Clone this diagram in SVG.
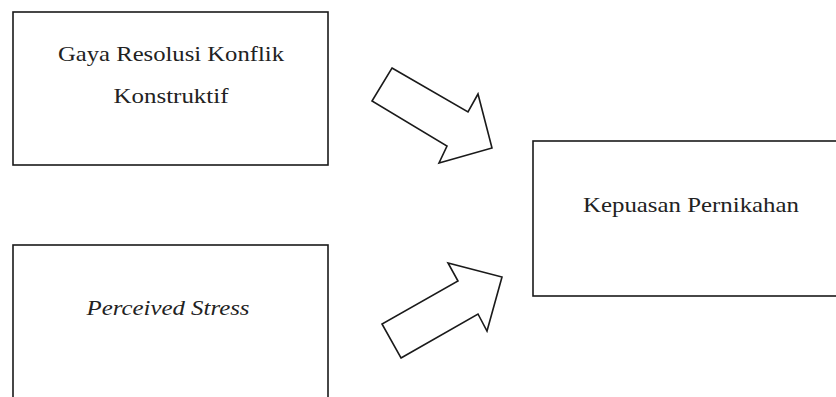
<svg xmlns="http://www.w3.org/2000/svg" width="836" height="397" viewBox="0 0 836 397">
<style>
.box{fill:#fff;stroke:#1a1a1a;stroke-width:1.6}
.arrow{fill:#fff;stroke:#1a1a1a;stroke-width:1.6;stroke-linejoin:miter}
.lbl{font-family:'Liberation Serif','Times New Roman','DejaVu Serif',Times,serif;font-size:22px;fill:#222;text-anchor:middle}
</style>
<rect width="836" height="397" fill="#fff"/>
<g id="node-gaya">
<rect class="box" x="13" y="12" width="315" height="153"/>
<text class="lbl" x="171" y="61" textLength="226" lengthAdjust="spacingAndGlyphs">Gaya Resolusi Konflik</text>
<text class="lbl" x="171" y="103" textLength="115" lengthAdjust="spacingAndGlyphs">Konstruktif</text>
</g>
<g id="node-stress">
<rect class="box" x="13" y="245" width="315" height="160"/>
<text class="lbl" x="168" y="315" font-style="italic" textLength="163" lengthAdjust="spacingAndGlyphs">Perceived Stress</text>
</g>
<g id="node-kepuasan">
<rect class="box" x="533" y="141" width="310" height="155"/>
<text class="lbl" x="691" y="212" textLength="216" lengthAdjust="spacingAndGlyphs">Kepuasan Pernikahan</text>
</g>
<g id="connectors">
<polygon class="arrow" points="392,68 468,112 478,94 492,148 439,163 447,146 372,101"/>
<polygon class="arrow" points="401,358 478,314 487,331 502,277 448,263 458,281 382,324"/>
</g>
</svg>
